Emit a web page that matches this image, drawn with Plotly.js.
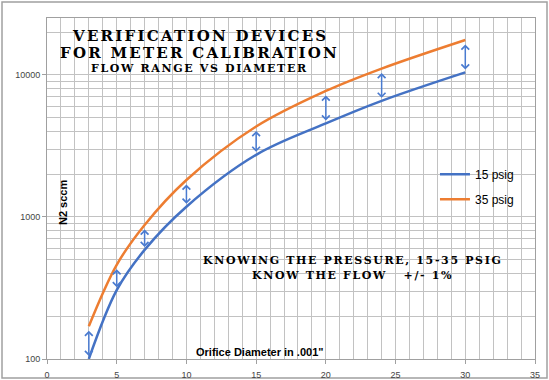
<!DOCTYPE html>
<html>
<head>
<meta charset="utf-8">
<script src="https://cdn.plot.ly/plotly-3.0.1.min.js"></script>
<style>
  html, body { margin: 0; padding: 0; background: #fff; }
  #chart { width: 549px; height: 380px; }
  text[style*="DejaVu Serif"] { letter-spacing: 0.15em; }
</style>
</head>
<body>
<div id="chart"></div>
<script>
// ---- data ----
var diameters = [3, 5, 7, 10, 15, 20, 24, 30];           // orifice diameter, .001"
var flow15 = [100, 305, 586, 1180, 2735, 4550, 6560, 10400];   // 15 psig, N2 sccm
var flow35 = [170, 460, 878, 1820, 4325, 7700, 11070, 17600];  // 35 psig, N2 sccm
var seriesNames = ['15 psig', '35 psig'];
var titleLines = ['VERIFICATION DEVICES', 'FOR METER CALIBRATION', 'FLOW RANGE VS DIAMETER'];
var noteLines = ['KNOWING THE PRESSURE, 15-35 PSIG', 'KNOW THE FLOW   +/- 1%'];
var xTitle = 'Orifice Diameter in .001"';
var yTitle = 'N2 sccm';

var blue = '#4472C4', orange = '#ED7D31', arrowColor = '#4a7bd0';

var traces = [
  {x: diameters, y: flow15, name: seriesNames[0], type: 'scatter', mode: 'lines',
   line: {color: blue, width: 2.5, shape: 'spline', smoothing: 1}, legendgroup: 'a'},
  {x: diameters, y: flow35, name: seriesNames[1], type: 'scatter', mode: 'lines',
   line: {color: orange, width: 2.5, shape: 'spline', smoothing: 1}, legendgroup: 'b'}
];

var serif = {family: 'DejaVu Serif', weight: 900, color: '#000'};
function f(size) { return Object.assign({}, serif, {size: size}); }

var annotations = [];
// double-headed arrows between the two series
for (var i = 0; i < diameters.length; i++) {
  annotations.push({
    x: diameters[i], y: Math.log10(flow15[i]), xref: 'x', yref: 'y',
    ax: diameters[i], ay: Math.log10(flow35[i]), axref: 'x', ayref: 'y',
    text: '', showarrow: true, arrowside: 'end+start',
    arrowhead: 4, startarrowhead: 4, arrowsize: 1, startarrowsize: 1,
    arrowwidth: 1.5, arrowcolor: arrowColor, standoff: 3, startstandoff: 3
  });
}
var tY = [0.947, 0.897, 0.853], tS = [15, 15, 11];
titleLines.forEach(function (t, k) {
  annotations.push({text: t, xref: 'paper', yref: 'paper', x: 0.3135, y: tY[k],
    xanchor: 'center', yanchor: 'middle', showarrow: false, font: f(tS[k])});
});
var nY = [0.289, 0.245];
noteLines.forEach(function (t, k) {
  annotations.push({text: t, xref: 'paper', yref: 'paper', x: 0.627, y: nY[k],
    xanchor: 'center', yanchor: 'middle', showarrow: false, font: f(11)});
});
annotations.push({text: yTitle, xref: 'paper', yref: 'paper', x: 0.0328, y: 0.4575,
  textangle: -90, xanchor: 'center', yanchor: 'middle', showarrow: false,
  font: {family: 'Liberation Sans', size: 11, weight: 'bold', color: '#000'}});
annotations.push({text: xTitle, xref: 'paper', yref: 'paper', x: 0.4365, y: 0.0205,
  xanchor: 'center', yanchor: 'middle', showarrow: false,
  font: {family: 'Liberation Sans', size: 11, weight: 'bold', color: '#000'}});

var grid = '#c2c2c2', axLine = '#a0a0a0';
var layout = {
  width: 549, height: 380,
  margin: {l: 47, r: 14, t: 18, b: 21, pad: 0},
  paper_bgcolor: '#fff', plot_bgcolor: '#fff',
  separators: '.',
  showlegend: true,
  legend: {x: 0.795, y: 0.584, xanchor: 'left', yanchor: 'top', bgcolor: 'rgba(0,0,0,0)',
    font: {family: 'Liberation Sans', size: 12, color: '#000'},
    traceorder: 'grouped', tracegroupgap: 6, itemwidth: 30},
  xaxis: {range: [0, 35], dtick: 5, tick0: 0, showgrid: true, gridcolor: grid, gridwidth: 1,
    minor: {dtick: 1, showgrid: true, gridcolor: grid, gridwidth: 1},
    showline: true, linecolor: axLine, linewidth: 1, mirror: true,
    ticks: 'outside', ticklen: 4, tickcolor: axLine, ticklabelstandoff: 3,
    tickfont: {family: 'Liberation Sans', size: 9, color: '#444'}, zeroline: false, fixedrange: true},
  yaxis: {type: 'log', range: [2, 4.4], dtick: 1, showgrid: true, gridcolor: grid, gridwidth: 1,
    exponentformat: 'none', tickformat: 'd',
    minor: {dtick: 'D1', showgrid: true, gridcolor: grid, gridwidth: 1},
    showline: true, linecolor: axLine, linewidth: 1, mirror: true,
    ticks: 'outside', ticklen: 4, tickcolor: axLine,
    tickfont: {family: 'Liberation Sans', size: 9, color: '#444'}, zeroline: false, fixedrange: true},
  annotations: annotations,
  shapes: [{type: 'rect', xref: 'paper', yref: 'paper',
    x0: -0.0922, x1: 1.0246, y0: -0.0557, y1: 1.0469,
    line: {color: '#a0a0a0', width: 1.5}, fillcolor: 'rgba(0,0,0,0)', layer: 'below'}]
};

Plotly.newPlot('chart', traces, layout, {staticPlot: true, displayModeBar: false});
</script>
</body>
</html>
